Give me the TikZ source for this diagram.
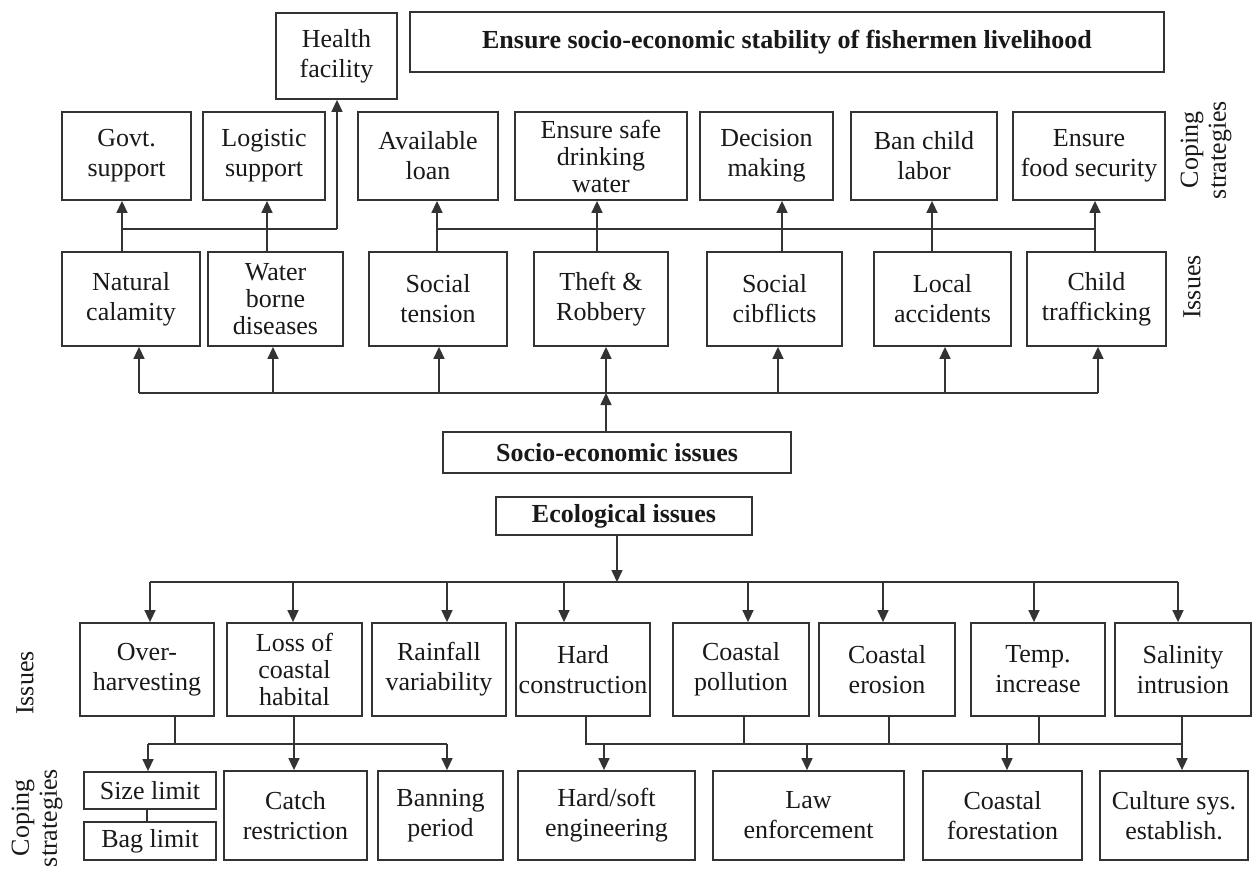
\documentclass[tikz,border=0pt]{standalone}
\usepackage{fontspec}
\setmainfont{Liberation Serif}
\usetikzlibrary{arrows.meta}
\begin{document}
\begin{tikzpicture}[x=1pt,y=-1pt,
  box/.style={draw=black!80, line width=1.8pt, inner sep=0pt, align=center,
    font=\fontsize{26}{30}\selectfont, text=black!90},
  boxthree/.style={box, font=\fontsize{26}{27}\selectfont},
  bbox/.style={box, font=\fontsize{26}{30}\selectfont\bfseries},
  lab/.style={rotate=90, align=center, font=\fontsize{26}{28}\selectfont, inner sep=0pt, text=black!90},
  ln/.style={draw=black!80, line width=1.5pt},
  arr/.style={ln, -{Triangle[length=12pt,width=11pt]}},
]
\fill[white] (0,0) rectangle (1256,871);
\useasboundingbox (0,0) rectangle (1256,871);

% ---------- top ----------
\node[box, minimum width=121pt, minimum height=86pt] (health) at (336.5,56) {Health\\facility};
\node[bbox, minimum width=754pt, minimum height=60pt] (title) at (787,42) {Ensure socio-economic stability of fishermen livelihood};

% coping strategies (top)
\node[box, minimum width=129pt, minimum height=88pt] (govt) at (126.5,156) {Govt.\\support};
\node[box, minimum width=122pt, minimum height=88pt] (logistic) at (264,156) {Logistic\\support};
\node[box, minimum width=140pt, minimum height=88pt] (loan) at (428,156) {Available\\loan};
\node[boxthree, minimum width=172pt, minimum height=88pt] (water) at (601,156) {Ensure safe\\drinking\\water};
\node[box, minimum width=133pt, minimum height=88pt] (decision) at (766.5,156) {Decision\\making};
\node[box, minimum width=146pt, minimum height=88pt] (childlabor) at (924,156) {Ban child\\labor};
\node[box, minimum width=152pt, minimum height=88pt] (food) at (1089,156) {Ensure\\food security};
\node[lab] (coptop) at (1206,150) {Coping\\strategies};

% issues (top)
\node[box, minimum width=138pt, minimum height=94pt] (natural) at (131,299) {Natural\\calamity};
\node[boxthree, minimum width=135pt, minimum height=94pt] (waterborne) at (275.5,299) {Water\\borne\\diseases};
\node[box, minimum width=138pt, minimum height=94pt] (tension) at (438,299) {Social\\tension};
\node[box, minimum width=134pt, minimum height=94pt] (theft) at (601,299) {Theft \&\\Robbery};
\node[box, minimum width=135pt, minimum height=94pt] (conflicts) at (774.5,299) {Social\\cibflicts};
\node[box, minimum width=137pt, minimum height=94pt] (accidents) at (942.5,299) {Local\\accidents};
\node[box, minimum width=139pt, minimum height=94pt] (trafficking) at (1096.5,299) {Child\\trafficking};
\node[lab] (isstop) at (1192,287) {Issues};

% centre boxes
\node[bbox, minimum width=348pt, minimum height=41pt] (socio) at (617,452.5) {Socio-economic issues};
\node[bbox, minimum width=256pt, minimum height=38pt] (eco) at (624,516) {Ecological issues};

% issues (bottom)
\node[box, minimum width=134pt, minimum height=93pt] (over) at (147,669.5) {Over-\\harvesting};
\node[boxthree, minimum width=135pt, minimum height=93pt] (habitat) at (294.5,669.5) {Loss of\\coastal\\habital};
\node[box, minimum width=134pt, minimum height=93pt] (rainfall) at (439,669.5) {Rainfall\\variability};
\node[box, minimum width=134pt, minimum height=93pt] (hardcons) at (583,669.5) {Hard\\construction};
\node[box, minimum width=136pt, minimum height=93pt] (pollution) at (741,669.5) {Coastal\\pollution};
\node[box, minimum width=136pt, minimum height=93pt] (erosion) at (887,669.5) {Coastal\\erosion};
\node[box, minimum width=134pt, minimum height=93pt] (temp) at (1038,669.5) {Temp.\\increase};
\node[box, minimum width=136pt, minimum height=93pt] (salinity) at (1183,669.5) {Salinity\\intrusion};
\node[lab] (issbot) at (25,683) {Issues};

% coping strategies (bottom)
\node[box, minimum width=132pt, minimum height=37pt] (sizelimit) at (150,790.5) {Size limit};
\node[box, minimum width=132pt, minimum height=38pt] (baglimit) at (150,841) {Bag limit};
\node[box, minimum width=143pt, minimum height=89pt] (catch) at (295.5,815.5) {Catch\\restriction};
\node[box, minimum width=125pt, minimum height=89pt] (banning) at (440.5,815.5) {Banning\\period};
\node[box, minimum width=177pt, minimum height=89pt] (hardsoft) at (606.5,815.5) {Hard/soft\\engineering};
\node[box, minimum width=191pt, minimum height=89pt] (law) at (808.5,815.5) {Law\\enforcement};
\node[box, minimum width=159pt, minimum height=89pt] (forest) at (1002.5,815.5) {Coastal\\forestation};
\node[box, minimum width=148pt, minimum height=89pt] (culture) at (1174,815.5) {Culture sys.\\establish.};
\node[lab] (copbot) at (37,818) {Coping\\strategies};

% ---------- connectors: issues -> coping (top) ----------
\coordinate (ta1) at (122,229);
\coordinate (ta2) at (267,229);
\coordinate (ta3) at (337,229);
\draw[arr] (natural.north -| ta1) -- (govt.south -| ta1);
\draw[arr] (waterborne.north -| ta2) -- (logistic.south -| ta2);
\draw[ln] (ta1) -- (ta3);
\draw[arr] (ta3) -- (health.south -| ta3);

\coordinate (tb1) at (437,229);
\coordinate (tb2) at (597,229);
\coordinate (tb3) at (782,229);
\coordinate (tb4) at (932,229);
\coordinate (tb5) at (1095,229);
\draw[arr] (tension.north -| tb1) -- (loan.south -| tb1);
\draw[arr] (theft.north -| tb2) -- (water.south -| tb2);
\draw[arr] (conflicts.north -| tb3) -- (decision.south -| tb3);
\draw[arr] (accidents.north -| tb4) -- (childlabor.south -| tb4);
\draw[arr] (trafficking.north -| tb5) -- (food.south -| tb5);
\draw[ln] (tb1) -- (tb5);

% ---------- socio-economic bus ----------
\coordinate (lb1) at (139,393);
\coordinate (lb2) at (273,393);
\coordinate (lb3) at (439,393);
\coordinate (lb4) at (606,393);
\coordinate (lb5) at (778,393);
\coordinate (lb6) at (945,393);
\coordinate (lb7) at (1098,393);
\draw[ln] (lb1) -- (lb7);
\draw[arr] (lb1) -- (natural.south -| lb1);
\draw[arr] (lb2) -- (waterborne.south -| lb2);
\draw[arr] (lb3) -- (tension.south -| lb3);
\draw[arr] (lb4) -- (theft.south -| lb4);
\draw[arr] (lb5) -- (conflicts.south -| lb5);
\draw[arr] (lb6) -- (accidents.south -| lb6);
\draw[arr] (lb7) -- (trafficking.south -| lb7);
\draw[arr] (socio.north -| lb4) -- (lb4);

% ---------- ecological bus ----------
\coordinate (eb0) at (617,582);
\draw[arr] (eco.south -| eb0) -- (eb0);
\coordinate (eb1) at (150,582);
\coordinate (eb2) at (293,582);
\coordinate (eb3) at (447,582);
\coordinate (eb4) at (564,582);
\coordinate (eb5) at (748,582);
\coordinate (eb6) at (883,582);
\coordinate (eb7) at (1034,582);
\coordinate (eb8) at (1178,582);
\draw[ln] (eb1) -- (eb8);
\draw[arr] (eb1) -- (over.north -| eb1);
\draw[arr] (eb2) -- (habitat.north -| eb2);
\draw[arr] (eb3) -- (rainfall.north -| eb3);
\draw[arr] (eb4) -- (hardcons.north -| eb4);
\draw[arr] (eb5) -- (pollution.north -| eb5);
\draw[arr] (eb6) -- (erosion.north -| eb6);
\draw[arr] (eb7) -- (temp.north -| eb7);
\draw[arr] (eb8) -- (salinity.north -| eb8);

% ---------- issues -> coping (bottom left) ----------
\coordinate (ca0) at (175,744);
\coordinate (ca1) at (148,744);
\coordinate (ca2) at (294,744);
\coordinate (ca3) at (447,744);
\draw[ln] (over.south -| ca0) -- (ca0);
\draw[ln] (ca1) -- (ca3);
\draw[arr] (ca1) -- (sizelimit.north -| ca1);
\draw[arr] (habitat.south -| ca2) -- (catch.north -| ca2);
\draw[arr] (ca3) -- (banning.north -| ca3);
\coordinate (cs) at (147,815);
\draw[ln] (sizelimit.south -| cs) -- (baglimit.north -| cs);

% ---------- issues -> coping (bottom right) ----------
\coordinate (cb0) at (586,744);
\coordinate (cb1) at (744,744);
\coordinate (cb2) at (889,744);
\coordinate (cb3) at (1039,744);
\coordinate (cb4) at (1182,744);
\coordinate (cd1) at (604,744);
\coordinate (cd2) at (807,744);
\coordinate (cd3) at (1007,744);
\draw[ln] (hardcons.south -| cb0) -- (cb0) -- (cb4);
\draw[ln] (pollution.south -| cb1) -- (cb1);
\draw[ln] (erosion.south -| cb2) -- (cb2);
\draw[ln] (temp.south -| cb3) -- (cb3);
\draw[arr] (salinity.south -| cb4) -- (culture.north -| cb4);
\draw[arr] (cd1) -- (hardsoft.north -| cd1);
\draw[arr] (cd2) -- (law.north -| cd2);
\draw[arr] (cd3) -- (forest.north -| cd3);
\end{tikzpicture}
\end{document}
